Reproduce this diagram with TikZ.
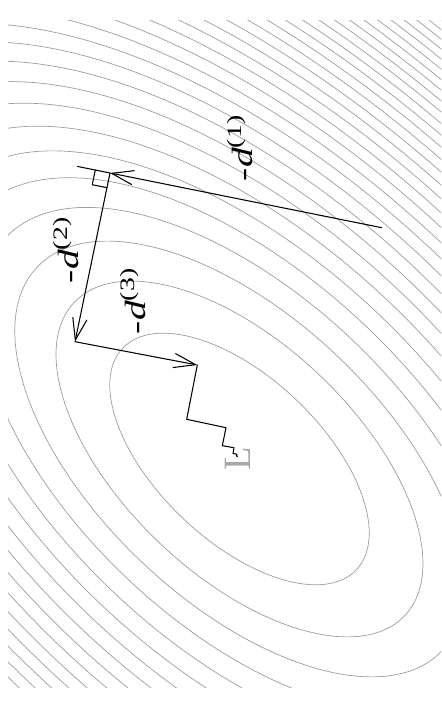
\documentclass[tikz,border=0pt]{standalone}
\usepackage{fontspec}
\setmainfont{Liberation Serif}
\usetikzlibrary{arrows.meta, calc}
\definecolor{sd-level}{HTML}{9C9C9C}
\definecolor{sd-min}{HTML}{A8A8A8}
\tikzset{
  level line/.style={sd-level, line width=0.6pt},
  walk line/.style={black, line width=0.9pt},
  dir label/.style={rotate=90, xscale=1.35, inner sep=0pt, font=\fontsize{25}{25}\selectfont},
}

\begin{document}
\begin{tikzpicture}[x=0.3mm, y=0.3mm, >={Straight Barb[length=6.6mm, width=4.3mm]},
    line cap=round, line join=round]
  \useasboundingbox (0,0) rectangle (441,706);
  \coordinate (c) at (239.5,247);
  \begin{scope}
    \clip (8,18) rectangle (441,685);
    \foreach \k in {1,...,38}
      \draw[level line, rotate around={-43.5:(c)}] (c) ellipse ({161*sqrt(\k)} and {82*sqrt(\k)});
  \end{scope}
  \node[sd-min, rotate=90, inner sep=0pt, font=\fontsize{33}{33}\selectfont] (lmin) at (237.5,247.5) {L};

  \coordinate (p0) at (381.7,478.3);
  \coordinate (p1) at (110,533);
  \coordinate (p2) at (75,364.3);
  \coordinate (p3) at (197.3,341);
  \coordinate (p4) at (186.7,286.7);
  \coordinate (p5) at (226,278.3);
  \coordinate (p6) at (222.3,260.3);
  \coordinate (p7) at (234,258.3);
  \coordinate (p8) at (233,252.5);
  \coordinate (p9) at (236.8,251.8);
  \coordinate (p10) at (236.4,249.9);
  \coordinate (p11) at (237.6,249.7);
  \coordinate (e) at ($(p1)!-0.12!(p0)$);

  \draw[walk line, ->] (p0) -- (p1);
  \draw[walk line] (p1) -- (e);
  \draw[walk line, ->] (p1) -- (p2);
  \draw[walk line, ->] (p2) -- (p3);
  \draw[walk line] (p3) -- (p4) -- (p5) -- (p6) -- (p7) -- (p8) -- (p9) -- (p10) -- (p11);

  \coordinate (ra1) at ($(p1)!4.5mm!(e)$);
  \coordinate (ra3) at ($(p1)!4.5mm!(p2)$);
  \draw[walk line] (ra1) -- ($(ra1)+(ra3)-(p1)$) -- (ra3);

  \node[dir label] (d1) at (240,558) {-\textit{d}\textsuperscript{(1)}};
  \node[dir label] (d2) at (66,456) {-\textit{d}\textsuperscript{(2)}};
  \node[dir label] (d3) at (133,405) {-\textit{d}\textsuperscript{(3)}};
\end{tikzpicture}
\end{document}
